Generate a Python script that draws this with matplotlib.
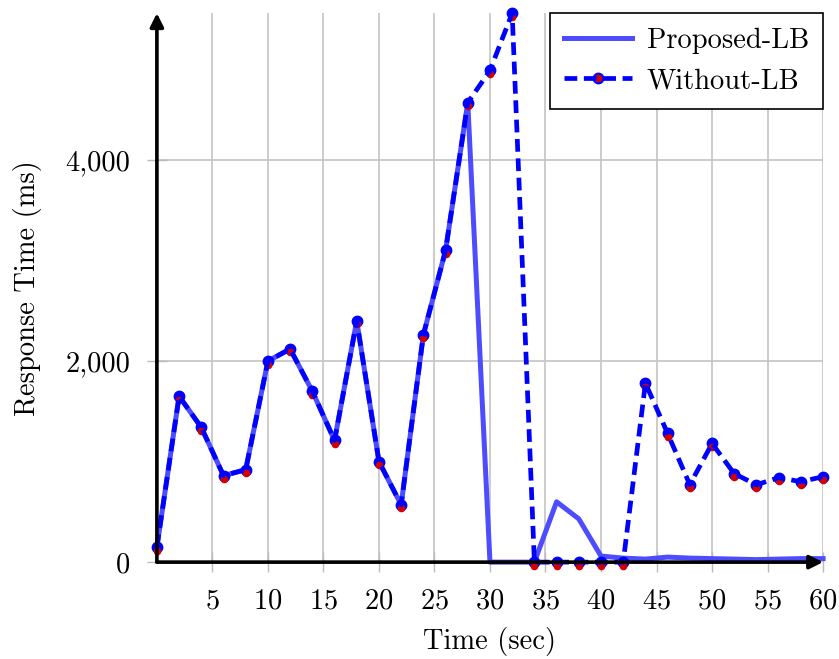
import matplotlib
matplotlib.use("Agg")
import matplotlib.pyplot as plt
import matplotlib.ticker as mticker
from matplotlib.transforms import offset_copy
from matplotlib.lines import Line2D

plt.rcParams['font.family'] = ['cmr10', 'DejaVu Serif']
plt.rcParams['axes.formatter.use_mathtext'] = True

# response time sampled every 2 s
t = list(range(0, 61, 2))
without_lb = [150, 1650, 1340, 860, 920, 2000, 2120, 1700, 1210, 2400,
              1000, 570, 2260, 3100, 4570, 4890, 5460, 0, 0, 0,
              0, 0, 1780, 1280, 770, 1180, 880, 770, 840, 800, 850]
proposed_lb = [150, 1650, 1340, 860, 920, 2000, 2120, 1700, 1210, 2400,
               1000, 570, 2260, 3100, 4570, 0, 0, 0, 600, 430,
               60, 40, 30, 50, 40, 35, 30, 25, 30, 35, 35]

fig = plt.figure(figsize=(8.39, 6.59), dpi=100)
ax = fig.add_axes([0.187, 0.147, 0.794, 0.833])

dash = (0, (2.7, 1.4))
ax.plot(t, proposed_lb, color='#4d4dff', lw=3.6, zorder=3, clip_on=False)
ax.plot(t, without_lb, ls='none', marker='o', ms=7.5, color='blue',
        zorder=4, clip_on=False)
red_tr = offset_copy(ax.transData, fig=fig, x=0, y=-3.5, units='dots')
ax.plot(t, without_lb, ls='none', marker='o', ms=4.5, color='#d40000',
        transform=red_tr, zorder=5, clip_on=False)
ax.plot(t, without_lb, color='blue', lw=3.4, ls=dash, zorder=6, clip_on=False)

ax.set_xlim(0, 60)
ax.set_ylim(0, 5460)
ax.set_xticks(range(5, 61, 5))
ax.set_yticks([0, 2000, 4000])
ax.yaxis.set_major_formatter(mticker.FuncFormatter(lambda v, p: f"{int(v):,}"))
ax.grid(True, color='#c4c4c4', lw=1.2)
ax.set_axisbelow(True)
for s in ax.spines.values():
    s.set_visible(False)
ax.tick_params(direction='inout', length=14, width=1, color='#bbbbbb',
               labelsize=20.5)
ax.tick_params(axis='x', pad=12)
ax.tick_params(axis='y', pad=12)

# axis lines with arrow heads
ax.annotate('', xy=(1.0, 0), xytext=(0, 0), xycoords='axes fraction',
            arrowprops=dict(arrowstyle='-|>', color='black', lw=2.6,
                            mutation_scale=20, shrinkA=0, shrinkB=0), zorder=7)
ax.annotate('', xy=(0, 1.0), xytext=(0, 0), xycoords='axes fraction',
            arrowprops=dict(arrowstyle='-|>', color='black', lw=2.6,
                            mutation_scale=20, shrinkA=0, shrinkB=0), zorder=7)

ax.set_xlabel('Time (sec)', fontsize=20.5, labelpad=9)
ax.set_ylabel('Response Time (ms)', fontsize=20.5, labelpad=17)

h1 = Line2D([], [], color='#4d4dff', lw=3.6)
h2 = Line2D([], [], ls='none', marker='o', ms=7.5, color='blue')
h3 = Line2D([], [], ls='none', marker='o', ms=4.5, color='#d40000')
h4 = Line2D([], [], color='blue', lw=3.4, ls=dash)
leg = ax.legend([h1, (h2, h3, h4)], ['Proposed-LB', 'Without-LB'],
                loc='upper right', bbox_to_anchor=(1.0, 1.0), fontsize=20.5,
                fancybox=False, framealpha=1, edgecolor='black',
                handlelength=2.4, borderpad=0.5, labelspacing=0.5,
                handletextpad=0.5, borderaxespad=0)
leg.get_frame().set_linewidth(1.2)
leg.set_zorder(10)

fig.savefig('out.png', dpi=100)
